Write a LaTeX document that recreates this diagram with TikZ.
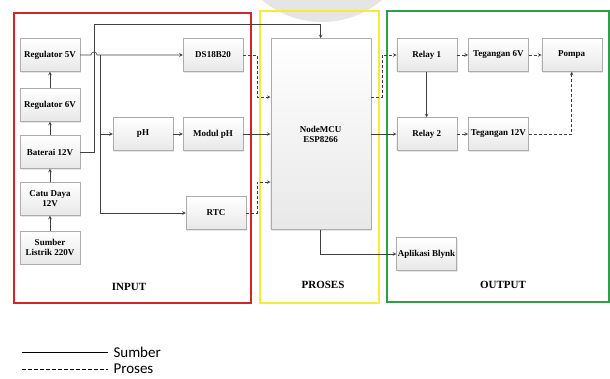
\documentclass[tikz,border=0pt]{standalone}
\usepackage{fontspec}
\setmainfont{Liberation Serif}
\newfontfamily\legendfont{Carlito}
\usetikzlibrary{shadows}
\definecolor{merah}{RGB}{212,36,44}
\definecolor{kuning}{RGB}{246,234,60}
\definecolor{hijau}{RGB}{44,160,72}
\tikzset{
  blok/.style={draw=gray!65, top color=white, bottom color=gray!18,
    minimum width=60pt, minimum height=33pt, align=center, inner sep=1pt,
    font=\fontsize{9}{10}\selectfont\bfseries,
    drop shadow={opacity=0.2,shadow xshift=1pt,shadow yshift=-1pt}},
  garis/.style={draw=black!75, line width=0.6pt},
  putus/.style={garis, dash pattern=on 3pt off 2pt},
  bingkai/.style={line width=1.8pt},
  judul/.style={font=\fontsize{11}{12}\selectfont\bfseries},
  legenda/.style={right, inner sep=5pt, font=\legendfont\fontsize{15}{16}\selectfont},
}
\begin{document}
\begin{tikzpicture}[x=1pt,y=-1pt,>=stealth]
\useasboundingbox (0,0) rectangle (610,378);
\begin{scope}
  \clip (0,0) rectangle (610,378);
  \fill[gray!20] (322,-71) circle (93);
\end{scope}
% bingkai
\draw[bingkai,merah] (14,12.7) rectangle (250.7,302.7);
\draw[bingkai,kuning] (260,10.7) rectangle (379.3,302.7);
\draw[bingkai,hijau] (387.3,10.7) rectangle (609,301.7);
\node[judul] (input) at (129,286.7) {INPUT};
\node[judul] (proses) at (323,285) {PROSES};
\node[judul] (output) at (503,285) {OUTPUT};
% input
\node[blok] (reg5) at (50,55) {Regulator 5V};
\node[blok] (reg6) at (50,105) {Regulator 6V};
\node[blok] (baterai) at (50,152) {Baterai 12V};
\node[blok] (catu) at (50,199) {Catu Daya\\12V};
\node[blok] (sumber) at (50,247.5) {Sumber\\Listrik 220V};
\node[blok] (ds) at (213,55) {DS18B20};
\node[blok] (ph) at (143,134) {pH};
\node[blok] (modul) at (213,134) {Modul pH};
\node[blok] (rtc) at (216,213) {RTC};
% proses
\node[blok,minimum width=100pt,minimum height=191pt] (mcu) at (320.7,134) {NodeMCU\\ESP8266};
% output
\node[blok] (relay1) at (426.7,55) {Relay 1};
\node[blok] (teg6) at (498.3,55) {Tegangan 6V};
\node[blok] (pompa) at (571.7,55) {Pompa};
\node[blok] (relay2) at (426.7,134) {Relay 2};
\node[blok] (teg12) at (498.3,134) {Tegangan 12V};
\node[blok] (blynk) at (426.5,254) {Aplikasi Blynk};
% garis sumber
\draw[garis,->] (sumber) -- (catu);
\draw[garis,->] (catu) -- (baterai);
\draw[garis,->] (baterai) -- (reg6);
\draw[garis,->] (reg6) -- (reg5);
\coordinate (cab) at (100,55);
\draw[garis,->] (reg5.east) -- (91,55) arc[start angle=180,end angle=0,radius=3pt] -- (ds.west);
\draw[garis,->] (cab) |- (ph.west);
\draw[garis,->] (cab) |- (rtc.west);
\draw[garis,->] (ph) -- (modul);
\draw[garis,->] (modul) -- (mcu.west);
\draw[garis,->] (baterai.east) -| (94,24) -| (mcu.north);
\draw[garis,->] (mcu.east) -- (relay2.west);
\draw[garis,->] (mcu.south) |- (blynk.west);
\draw[garis,->] (relay1) -- (relay2);
% garis proses
\draw[putus,->] (ds.east) -- (257,55) |- ([yshift=37pt]mcu.west);
\draw[putus,->] (rtc.east) -- (257,213) |- ([yshift=-48pt]mcu.west);
\draw[putus,->] ([yshift=37pt]mcu.east) -| (382,55) -- (relay1.west);
\draw[putus,->] (relay1) -- (teg6);
\draw[putus,->] (teg6) -- (pompa);
\draw[putus,->] (relay2) -- (teg12);
\draw[putus,->] (teg12.east) -| (pompa.south);
% keterangan
\coordinate (ls) at (22,352);
\coordinate (lp) at (22,369);
\draw[line width=1pt] (ls) -- ++(86,0) node[legenda] (tsumber) {Sumber};
\draw[line width=1pt,dash pattern=on 4pt off 2pt] (lp) -- ++(86,0) node[legenda] (tproses) {Proses};
\end{tikzpicture}
\end{document}
